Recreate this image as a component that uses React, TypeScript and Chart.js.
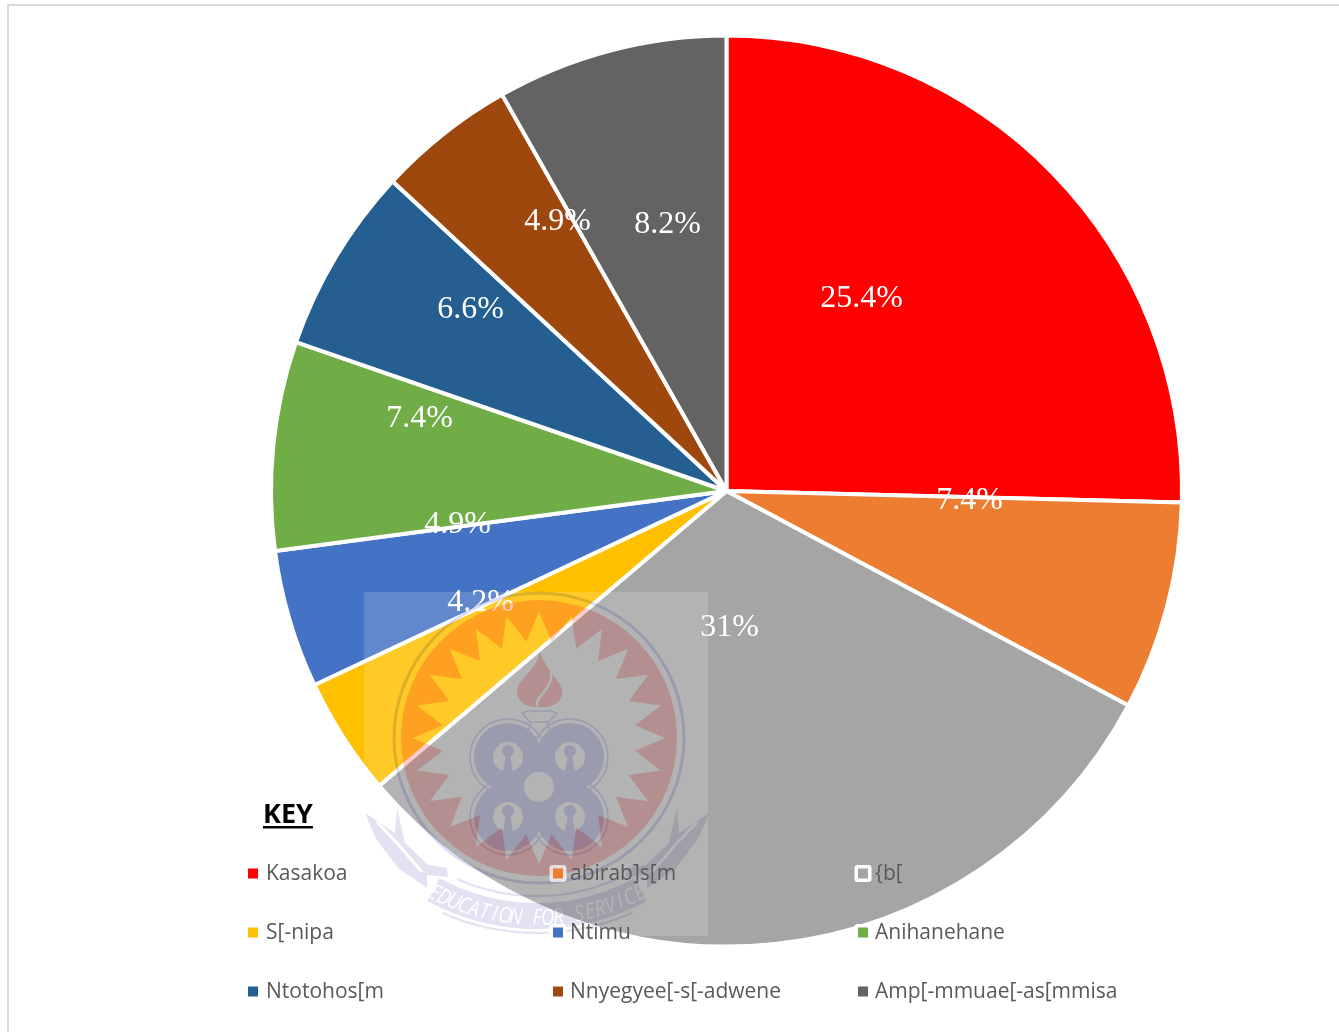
import React, { useEffect, useRef } from "react";
import { Chart, registerables } from "chart.js";

Chart.register(...registerables);

const categories = ["Kasakoa", "abirab]s[m", "{b[", "S[-nipa", "Ntimu", "Anihanehane", "Ntotohos[m", "Nnyegyee[-s[-adwene", "Amp[-mmuae[-as[mmisa"];
const sliceValues = [25.4, 7.4, 31, 4.2, 4.9, 7.4, 6.6, 4.9, 8.2];
const labelTexts = ["25.4%", "7.4%", "31%", "4.2%", "4.9%", "7.4%", "6.6%", "4.9%", "8.2%"];
const sliceColors = ["#ff0000", "#ed7d31", "#a5a5a5", "#ffc000", "#4472c4", "#70ad47", "#255e91", "#9e480e", "#636363"];

const labelOffsets = [[135, -192], [243, 10], [3, 137], [-246, 112], [-269, 34], [-307, -72], [-256, -181], [-169, -269], [-59, -266]];
const legendColumns = [[248, 266], [553, 570], [858, 875]];
const legendRows = [874, 933, 992];

function layer(draw: (c: CanvasRenderingContext2D) => void) {
  const el = document.createElement("canvas");
  el.width = 1339;
  el.height = 1032;
  const c = el.getContext("2d")!;
  draw(c);
  return el;
}

function redLayer() {
  return layer((c) => {
    const cx = 539, cy = 738;
    c.fillStyle = "rgb(255,204,204)";
    c.beginPath();
    c.arc(cx, cy, 138, 0, Math.PI * 2);
    c.fill();
    c.globalCompositeOperation = "destination-out";
    c.beginPath();
    const n = 24;
    for (let i = 0; i < n * 2; i++) {
      const r = i % 2 === 0 ? 126 : 97;
      const a = -Math.PI / 2 + (i * Math.PI) / n;
      const x = cx + r * Math.cos(a), y = cy + r * Math.sin(a);
      if (i === 0) c.moveTo(x, y); else c.lineTo(x, y);
    }
    c.closePath();
    c.fill();
    c.globalCompositeOperation = "source-over";
    c.beginPath();
    c.moveTo(540, 652);
    c.bezierCurveTo(546, 672, 564, 682, 562, 694);
    c.bezierCurveTo(560, 706, 546, 708, 541, 707);
    c.bezierCurveTo(534, 708, 518, 706, 517, 692);
    c.bezierCurveTo(518, 678, 536, 672, 540, 652);
    c.fill();
    c.globalCompositeOperation = "destination-out";
    c.lineWidth = 2.5;
    c.beginPath();
    c.moveTo(537, 707);
    c.bezierCurveTo(534, 695, 555, 690, 551, 668);
    c.stroke();
  });
}

function blueLayer() {
  return layer((c) => {
    const cx = 539, cy = 738;
    const blue = "rgb(221,221,249)";
    c.strokeStyle = blue;
    c.fillStyle = blue;
    c.lineWidth = 3;
    c.beginPath();
    c.arc(cx, cy, 145, 0, Math.PI * 2);
    c.stroke();
    const lobes = [[-31, -30], [31, -30], [-31, 30], [31, 30]];
    lobes.forEach(([dx, dy]) => {
      c.lineWidth = 1.5;
      c.beginPath();
      c.arc(cx + dx, 787 + dy, 38, 0, Math.PI * 2);
      c.stroke();
    });
    c.clearRect(cx - 24, 763, 48, 48);
    c.beginPath();
    lobes.forEach(([dx, dy]) => {
      c.moveTo(cx + dx + 34, 787 + dy);
      c.arc(cx + dx, 787 + dy, 34, 0, Math.PI * 2);
    });
    c.fill();
    c.fillRect(cx - 22, 765, 44, 44);
    c.globalCompositeOperation = "destination-out";
    c.beginPath();
    c.arc(cx, 787, 15, 0, Math.PI * 2);
    c.fill();
    lobes.forEach(([dx, dy]) => {
      c.beginPath();
      c.arc(cx + dx, 787 + dy, 15, 0, Math.PI * 2);
      c.fill();
    });
    c.globalCompositeOperation = "source-over";
    lobes.forEach(([dx, dy]) => {
      const x = cx + dx, y = 787 + dy;
      c.beginPath();
      c.arc(x, y - 6, 6, 0, Math.PI * 2);
      c.fill();
      c.beginPath();
      c.moveTo(x - 2, y - 4);
      c.lineTo(x + 2, y - 4);
      c.lineTo(x + 5, y + 16);
      c.lineTo(x - 5, y + 16);
      c.closePath();
      c.fill();
    });
    c.lineWidth = 1.5;
    c.beginPath();
    c.moveTo(522, 713);
    c.lineTo(528, 711);
    c.lineTo(551, 711);
    c.lineTo(557, 713);
    c.lineTo(549, 722);
    c.lineTo(530, 722);
    c.closePath();
    c.stroke();
    c.beginPath();
    c.moveTo(531, 722);
    c.lineTo(527, 735);
    c.moveTo(547, 722);
    c.lineTo(551, 735);
    c.stroke();

    const ribbon = "rgb(226,226,243)";
    const rcx = 537, rcy = 700;
    c.fillStyle = ribbon;
    c.strokeStyle = ribbon;
    c.beginPath();
    c.arc(rcx, rcy, 229, Math.PI / 2 - 0.5, Math.PI / 2 + 0.5);
    c.arc(rcx, rcy, 203, Math.PI / 2 + 0.5, Math.PI / 2 - 0.5, true);
    c.closePath();
    c.fill();
    c.lineWidth = 2;
    c.beginPath();
    c.arc(rcx, rcy, 233, Math.PI / 2 - 0.42, Math.PI / 2 + 0.42);
    c.stroke();
    c.beginPath();
    c.arc(rcx, rcy, 196, Math.PI / 2 - 0.42, Math.PI / 2 + 0.42);
    c.stroke();
    const tail = (m: number) => {
      const p = [[-172, 813], [-142, 833], [-140, 808], [-132, 843], [-109, 865], [-90, 868], [-89, 877], [-110, 875], [-110, 888], [-139, 868], [-162, 837]];
      c.fillStyle = ribbon;
      c.beginPath();
      p.forEach(([x, y], i) => (i === 0 ? c.moveTo(rcx + m * x, y) : c.lineTo(rcx + m * x, y)));
      c.closePath();
      c.fill();
      c.save();
      c.globalCompositeOperation = "destination-out";
      c.lineWidth = 3;
      c.beginPath();
      c.moveTo(rcx + m * -160, 822);
      c.lineTo(rcx + m * -140, 843);
      c.lineTo(rcx + m * -115, 872);
      c.stroke();
      c.restore();
    };
    tail(1);
    tail(-1);
    c.font = "italic 22px 'Open Sans'";
    c.textAlign = "center";
    c.textBaseline = "alphabetic";
    const text = "EDUCATION FOR SERVICE";
    const step = (56 / 20) * (Math.PI / 180);
    c.globalCompositeOperation = "destination-out";
    [...text].forEach((ch, i) => {
      const t = -28 * (Math.PI / 180) + i * step;
      c.save();
      c.translate(rcx + 225 * Math.sin(t), rcy + 225 * Math.cos(t));
      c.rotate(-t);
      c.scale(0.85, 1);
      c.fillText(ch, 0, 0);
      c.restore();
    });
    c.globalCompositeOperation = "source-over";
  });
}

const annotations = {
  id: "annotations",
  afterDatasetsDraw(chart: Chart) {
    const ctx = chart.ctx;
    const arc = chart.getDatasetMeta(0).data[0] as any;
    const { x: cx, y: cy } = arc;

    ctx.save();
    ctx.font = "32px 'Liberation Serif'";
    ctx.fillStyle = "#ffffff";
    ctx.textAlign = "center";
    ctx.textBaseline = "middle";
    labelTexts.forEach((t, i) => {
      ctx.fillText(t, cx + labelOffsets[i][0], cy + labelOffsets[i][1]);
    });

    ctx.fillStyle = "rgba(255,255,255,0.155)";
    ctx.fillRect(364, 592, 344, 344);
    ctx.globalCompositeOperation = "multiply";
    ctx.drawImage(redLayer(), 0, 0);
    ctx.drawImage(blueLayer(), 0, 0);
    ctx.globalCompositeOperation = "source-over";

    ctx.strokeStyle = "#d9d9d9";
    ctx.lineWidth = 2;
    ctx.beginPath();
    ctx.moveTo(8, 1032);
    ctx.lineTo(8, 5);
    ctx.lineTo(1339, 5);
    ctx.stroke();

    ctx.font = "bold 27px 'Open Sans'";
    ctx.fillStyle = "#000000";
    ctx.textAlign = "left";
    ctx.textBaseline = "alphabetic";
    ctx.fillText("KEY", 263, 823);
    const w = ctx.measureText("KEY").width;
    ctx.fillRect(263, 826, w, 2.5);

    ctx.font = "21px 'Open Sans'";
    ctx.textBaseline = "middle";
    categories.forEach((name, i) => {
      const col = legendColumns[i % 3];
      const y = legendRows[Math.floor(i / 3)];
      ctx.fillStyle = i === 1 ? "rgba(255,255,255,0.7)" : "#ffffff";
      ctx.beginPath();
      ctx.roundRect(col[0] - 3.5, y - 9, 17, 17, 3);
      ctx.fill();
      ctx.fillStyle = sliceColors[i];
      ctx.fillRect(col[0], y - 5.5, 10, 10);
      ctx.fillStyle = "#595959";
      ctx.fillText(name, col[1], y);
    });
    ctx.restore();
  },
};

export default function App() {
  const ref = useRef<HTMLCanvasElement>(null);
  useEffect(() => {
    const chart = new Chart(ref.current!, {
      type: "pie",
      data: {
        labels: categories,
        datasets: [{
          data: sliceValues,
          backgroundColor: sliceColors,
          borderColor: "#ffffff",
          borderWidth: 4,
        }],
      },
      options: {
        responsive: false,
        animation: false,
        layout: { padding: { left: 269, right: 155, top: 33, bottom: 83 } },
        plugins: { legend: { display: false }, tooltip: { enabled: false } },
      },
      plugins: [annotations],
    });
    return () => chart.destroy();
  }, []);
  return (
    <canvas
      ref={ref}
      width={1339}
      height={1032}
      style={{ position: "absolute", left: 0, top: 0, display: "block" }}
    />
  );
}
